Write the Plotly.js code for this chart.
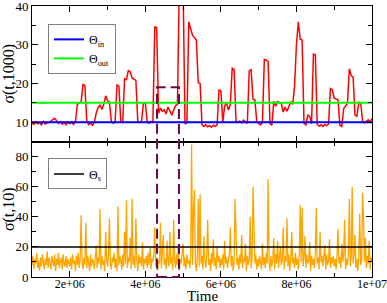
<!DOCTYPE html>
<html><head><meta charset="utf-8">
<script src="https://cdn.plot.ly/plotly-3.0.1.min.js"></script>
<style>html,body{margin:0;padding:0;background:#fff}</style>
</head><body>
<div id="chart" style="width:387px;height:303px"></div>
<script>
// time in units of 1e6
const TIME_UNIT = 1e6;
const sigma1000Time = [
1,1.05,1.1,1.15,1.2,1.25,1.3,1.35,1.4,1.45,1.5,1.55,1.6,1.65,1.7,1.75,1.8,1.85,1.9,1.95,
2,2.05,2.1,2.15,2.2,2.25,2.3,2.35,2.4,2.45,2.5,2.55,2.6,2.65,2.7,2.75,2.8,2.85,2.9,2.95,
3,3.05,3.1,3.15,3.2,3.25,3.3,3.35,3.4,3.45,3.5,3.55,3.6,3.65,3.7,3.75,3.8,3.85,3.9,3.95,
4,4.05,4.1,4.15,4.2,4.25,4.3,4.35,4.4,4.45,4.5,4.55,4.6,4.65,4.7,4.75,4.8,4.85,4.9,4.95,
5,5.05,5.1,5.15,5.2,5.25,5.3,5.35,5.4,5.45,5.5,5.55,5.6,5.65,5.7,5.75,5.8,5.85,5.9,5.95,
6,6.05,6.1,6.15,6.2,6.25,6.3,6.35,6.4,6.45,6.5,6.55,6.6,6.65,6.7,6.75,6.8,6.85,6.9,6.95,
7,7.05,7.1,7.15,7.2,7.25,7.3,7.35,7.4,7.45,7.5,7.55,7.6,7.65,7.7,7.75,7.8,7.85,7.9,7.95,
8,8.05,8.1,8.15,8.2,8.25,8.3,8.35,8.4,8.45,8.5,8.55,8.6,8.65,8.7,8.75,8.8,8.85,8.9,8.95,
9,9.05,9.1,9.15,9.2,9.25,9.3,9.35,9.4,9.45,9.5,9.55,9.6,9.65,9.7,9.75,9.8,9.85,9.9,9.95,
10];
const sigma1000 = [
9.8,9.4,10.1,9.6,9.9,9.3,10.2,9.5,9.8,9.9,10.3,10.6,11.0,10.4,9.7,10.1,9.5,9.9,9.3,10.0,
9.6,9.9,9.4,10.0,14.6,14.9,15.2,19.8,19.4,10.3,9.4,9.8,9.2,9.9,12.4,13.8,14.4,13.3,14.6,16.8,
15.6,15.1,10.2,9.7,10.1,19.6,19.3,10.2,9.8,21.2,21.0,23.3,23.0,21.4,21.1,20.8,10.3,9.9,10.2,15.0,
14.9,10.1,9.7,10.2,9.9,34.7,34.4,12.3,13.6,12.8,13.2,12.1,13.9,12.6,11.8,13.1,14.3,14.6,46,46,
45,9.5,9.8,35.9,34.0,32.4,31.8,31.2,20.2,20.0,9.4,8.9,9.3,8.8,9.1,8.7,9.2,8.9,9.3,18.3,
18.1,10.0,14.2,14.9,13.1,14.6,23.9,23.6,10.4,9.9,10.3,9.8,10.5,10.0,9.7,23.2,23.5,15.9,15.7,10.1,
9.8,9.3,9.9,26.2,26.0,25.7,9.6,9.2,15.4,14.1,15.3,15.1,14.8,12.6,13.9,12.8,14.2,15.3,14.6,19.3,
30.0,35.9,31.4,31.2,9.7,9.3,11.8,11.5,9.6,27.6,27.4,9.4,9.0,9.3,8.9,9.4,9.1,9.5,18.7,18.4,
16.2,16.0,15.8,9.2,8.9,13.5,14.2,14.8,23.8,22.0,21.6,11.8,11.5,15.1,15.0,10.3,9.8,10.2,10.6,10.1,
11.0];
const sigma10Time = [
1,1.025,1.05,1.075,1.1,1.125,1.15,1.175,1.2,1.225,1.25,1.275,1.3,1.325,1.35,1.375,1.4,1.425,1.45,1.475,1.5,1.525,1.55,1.575,1.6,1.625,1.65,1.675,1.7,1.725,1.75,1.775,1.8,1.825,1.85,1.875,1.9,1.925,1.95,1.975,
2,2.025,2.05,2.075,2.1,2.125,2.15,2.175,2.2,2.225,2.25,2.275,2.3,2.325,2.35,2.375,2.4,2.425,2.45,2.475,2.5,2.525,2.55,2.575,2.6,2.625,2.65,2.675,2.7,2.725,2.75,2.775,2.8,2.825,2.85,2.875,2.9,2.925,2.95,2.975,
3,3.025,3.05,3.075,3.1,3.125,3.15,3.175,3.2,3.225,3.25,3.275,3.3,3.325,3.35,3.375,3.4,3.425,3.45,3.475,3.5,3.525,3.55,3.575,3.6,3.625,3.65,3.675,3.7,3.725,3.75,3.775,3.8,3.825,3.85,3.875,3.9,3.925,3.95,3.975,
4,4.025,4.05,4.075,4.1,4.125,4.15,4.175,4.2,4.225,4.25,4.275,4.3,4.325,4.35,4.375,4.4,4.425,4.45,4.475,4.5,4.525,4.55,4.575,4.6,4.625,4.65,4.675,4.7,4.725,4.75,4.775,4.8,4.825,4.85,4.875,4.9,4.925,4.95,4.975,
5,5.025,5.05,5.075,5.1,5.125,5.15,5.175,5.2,5.225,5.25,5.275,5.3,5.325,5.35,5.375,5.4,5.425,5.45,5.475,5.5,5.525,5.55,5.575,5.6,5.625,5.65,5.675,5.7,5.725,5.75,5.775,5.8,5.825,5.85,5.875,5.9,5.925,5.95,5.975,
6,6.025,6.05,6.075,6.1,6.125,6.15,6.175,6.2,6.225,6.25,6.275,6.3,6.325,6.35,6.375,6.4,6.425,6.45,6.475,6.5,6.525,6.55,6.575,6.6,6.625,6.65,6.675,6.7,6.725,6.75,6.775,6.8,6.825,6.85,6.875,6.9,6.925,6.95,6.975,
7,7.025,7.05,7.075,7.1,7.125,7.15,7.175,7.2,7.225,7.25,7.275,7.3,7.325,7.35,7.375,7.4,7.425,7.45,7.475,7.5,7.525,7.55,7.575,7.6,7.625,7.65,7.675,7.7,7.725,7.75,7.775,7.8,7.825,7.85,7.875,7.9,7.925,7.95,7.975,
8,8.025,8.05,8.075,8.1,8.125,8.15,8.175,8.2,8.225,8.25,8.275,8.3,8.325,8.35,8.375,8.4,8.425,8.45,8.475,8.5,8.525,8.55,8.575,8.6,8.625,8.65,8.675,8.7,8.725,8.75,8.775,8.8,8.825,8.85,8.875,8.9,8.925,8.95,8.975,
9,9.025,9.05,9.075,9.1,9.125,9.15,9.175,9.2,9.225,9.25,9.275,9.3,9.325,9.35,9.375,9.4,9.425,9.45,9.475,9.5,9.525,9.55,9.575,9.6,9.625,9.65,9.675,9.7,9.725,9.75,9.775,9.8,9.825,9.85,9.875,9.9,9.925,9.95,9.975,
10];
const sigma10 = [
8,14,5,12,9,16,6,11,4,13,7,15,10,5,12,8,17,6,13,9,5,14,11,7,15,4,12,8,16,6,10,13,5,15,9,7,14,6,12,10,
7,13,5,15,9,11,4,14,8,16,6,12,41,10,5,13,8,36,6,14,9,4,15,7,12,10,5,16,21,6,13,9,45,5,14,8,11,4,30,12,
7,15,39,9,5,13,10,16,6,12,4,47,8,14,11,5,15,7,30,9,51,6,13,10,26,5,52,8,14,6,39,11,4,15,9,13,7,23,5,12,
9,14,6,16,8,20,5,12,10,15,33,7,13,4,11,9,36,6,14,28,8,12,5,24,10,7,30,9,13,5,38,11,6,15,8,21,4,12,9,16,
22,7,13,5,15,9,11,6,14,88,8,45,58,10,4,13,52,7,55,9,14,5,27,11,6,15,38,8,12,4,16,9,25,7,13,5,20,10,14,6,
12,8,15,5,24,9,13,6,11,16,33,7,14,4,10,52,30,8,13,5,15,9,28,6,12,10,22,4,14,8,11,40,6,13,60,40,9,15,5,12,
7,14,10,5,22,8,13,6,16,9,65,11,4,14,7,12,26,5,15,9,24,6,13,20,8,11,33,5,14,10,39,7,15,4,12,30,9,13,6,16,
8,12,5,14,48,10,46,7,13,27,6,15,9,11,23,4,14,8,12,6,16,46,9,13,5,30,10,14,7,12,21,5,15,8,11,25,6,13,9,14,
7,12,5,15,32,9,13,6,22,10,14,38,5,12,8,16,52,7,13,60,9,15,28,6,12,4,14,42,8,11,56,40,10,26,6,14,9,24,5,13,
10];
const thetaIn = 10, thetaOut = 15, thetaS = 20;
const xRange = [1e6, 1e7];
const xTickVals = [2e6, 4e6, 6e6, 8e6, 1e7];
const xTickText = ['2e+06', '4e+06', '6e+06', '8e+06', '1e+07'];
const topYRange = [5, 40], topYTicks = [10, 20, 30, 40];
const botYRange = [0, 90], botYTicks = [0, 20, 40, 60, 80];
const windowStart = 4.31e6, windowEnd = 4.89e6, windowTop = 19, windowBottom = 0;

const toTime = a => a.map(v => v * TIME_UNIT);
const topDom = [0.5, 1], botDom = [0, 0.5];
const FONT = 'Liberation Serif, Times New Roman, serif';

const traces = [
  {x: toTime(sigma1000Time), y: sigma1000, xaxis: 'x', yaxis: 'y', mode: 'lines',
   line: {color: '#ff0000', width: 1.5}, showlegend: false, hoverinfo: 'skip'},
  {x: xRange, y: [thetaIn, thetaIn], xaxis: 'x', yaxis: 'y', mode: 'lines', name: 'Θ<sub>in</sub>',
   line: {color: '#0000ff', width: 2}, legend: 'legend'},
  {x: xRange, y: [thetaOut, thetaOut], xaxis: 'x', yaxis: 'y', mode: 'lines', name: 'Θ<sub>out</sub>',
   line: {color: '#00ff00', width: 2}, legend: 'legend'},
  {x: toTime(sigma10Time), y: sigma10, xaxis: 'x2', yaxis: 'y2', mode: 'lines',
   line: {color: '#ffa500', width: 1.3}, showlegend: false, hoverinfo: 'skip'},
  {x: xRange, y: [thetaS, thetaS], xaxis: 'x2', yaxis: 'y2', mode: 'lines', name: 'Θ<sub>s</sub>',
   line: {color: '#000000', width: 1.5}, legend: 'legend2'}
];

const axisCommon = {
  showline: true, linecolor: '#000', linewidth: 1, mirror: 'allticks',
  ticks: 'inside', ticklen: 6, tickwidth: 1, tickcolor: '#000',
  showgrid: false, zeroline: false, ticklabeloverflow: 'allow',
  tickfont: {family: FONT, size: 13, color: '#000'}
};
const xCommon = Object.assign({}, axisCommon, {
  range: xRange, tickmode: 'array', tickvals: xTickVals, ticktext: xTickText,
  minor: {tickmode: 'linear', tick0: 0, dtick: 1e6, ticks: 'inside', ticklen: 4, tickcolor: '#000', showgrid: false}
});

function paperY(v, range, dom) {
  return dom[0] + (v - range[0]) / (range[1] - range[0]) * (dom[1] - dom[0]);
}

const layout = {
  width: 387, height: 303,
  margin: {l: 32, r: 15, t: 6, b: 26},
  paper_bgcolor: '#fff', plot_bgcolor: '#fff',
  font: {family: FONT, color: '#000'},
  xaxis: Object.assign({}, xCommon, {domain: [0, 1], anchor: 'y', showticklabels: false}),
  xaxis2: Object.assign({}, xCommon, {domain: [0, 1], anchor: 'y2', showticklabels: true,
    ticklabelstandoff: -4, tickangle: 0,
    tickfont: {family: FONT, size: 12, color: '#000'}}),
  yaxis: Object.assign({}, axisCommon, {domain: topDom, anchor: 'x', range: topYRange,
    tickmode: 'array', tickvals: topYTicks,
    minor: {tickmode: 'linear', tick0: 0, dtick: 5, ticks: 'inside', ticklen: 4, tickcolor: '#000', showgrid: false},
    title: {text: 'σ(t,1000)', font: {family: FONT, size: 16, color: '#000'}, standoff: 4}}),
  yaxis2: Object.assign({}, axisCommon, {domain: botDom, anchor: 'x2', range: botYRange,
    tickmode: 'array', tickvals: botYTicks,
    minor: {tickmode: 'linear', tick0: 0, dtick: 10, ticks: 'inside', ticklen: 4, tickcolor: '#000', showgrid: false},
    title: {text: 'σ(t,10)', font: {family: FONT, size: 16, color: '#000'}, standoff: 4}}),
  legend: {x: 0.047, y: 0.934, xanchor: 'left', yanchor: 'top', bgcolor: '#fff',
    bordercolor: '#7f7f7f', borderwidth: 1, itemwidth: 30,
    font: {family: FONT, size: 12, color: '#000'}},
  legend2: {x: 0.047, y: 0.4375, xanchor: 'left', yanchor: 'top', bgcolor: '#fff',
    bordercolor: '#7f7f7f', borderwidth: 1, itemwidth: 30,
    font: {family: FONT, size: 12, color: '#000'}},
  annotations: [{
    text: 'Time', xref: 'paper', yref: 'paper', x: 0.5, y: 0, yshift: -29,
    xanchor: 'center', yanchor: 'bottom', showarrow: false,
    font: {family: FONT, size: 15, color: '#000'}
  }],
  shapes: [{
    type: 'rect', xref: 'x2', yref: 'paper',
    x0: windowStart, x1: windowEnd,
    y0: paperY(windowBottom, botYRange, botDom), y1: paperY(windowTop, topYRange, topDom),
    line: {color: '#6a0a4a', width: 2, dash: '10px,5px'}, fillcolor: 'rgba(0,0,0,0)', layer: 'above'
  }]
};

Plotly.newPlot('chart', traces, layout, {displayModeBar: false, staticPlot: true});
</script>
</body></html>
